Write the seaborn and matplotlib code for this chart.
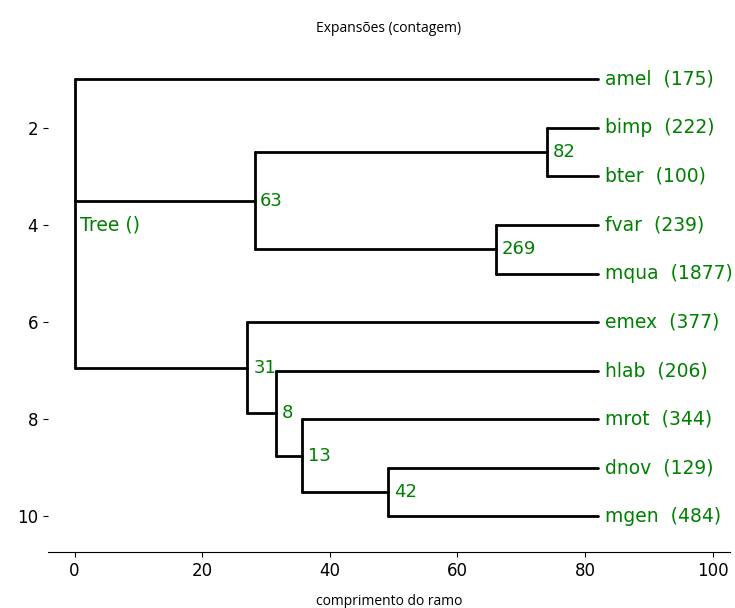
import pandas as pd
import matplotlib.pyplot as plt
import seaborn as sns

# leaves (top to bottom) and their expansion counts
leaves = ['amel', 'bimp', 'bter', 'fvar', 'mqua', 'emex', 'hlab', 'mrot', 'dnov', 'mgen']
counts = [175, 222, 100, 239, 1877, 377, 206, 344, 129, 484]
leaf_x = 82.0

# internal nodes: id, distance from root, label, children
node_ids = ['root', 'n63', 'n82', 'n269', 'n31', 'n8', 'n13', 'n42']
node_x = [0.0, 28.2, 74.0, 66.0, 27.1, 31.5, 35.7, 49.2]
node_labels = ['Tree ()', '63', '82', '269', '31', '8', '13', '42']
node_children = [['amel', 'n63', 'n31'], ['n82', 'n269'], ['bimp', 'bter'],
                 ['fvar', 'mqua'], ['emex', 'n8'], ['hlab', 'n13'],
                 ['mrot', 'n42'], ['dnov', 'mgen']]

green = '#008000'


def main():
    xpos = {n: leaf_x for n in leaves}
    ypos = {n: i + 1 for i, n in enumerate(leaves)}
    xpos.update(dict(zip(node_ids, node_x)))

    def get_y(n):
        if n not in ypos:
            kids = node_children[node_ids.index(n)]
            ypos[n] = sum(get_y(k) for k in kids) / len(kids)
        return ypos[n]

    for n in node_ids:
        get_y(n)

    # build segments
    rows = []
    seg = 0
    for n, kids in zip(node_ids, node_children):
        ys = [ypos[k] for k in kids]
        rows += [(seg, xpos[n], min(ys)), (seg, xpos[n], max(ys))]
        seg += 1
        for k in kids:
            rows += [(seg, xpos[n], ypos[k]), (seg, xpos[k], ypos[k])]
            seg += 1
    df = pd.DataFrame(rows, columns=['seg', 'x', 'y'])

    sns.set_style('ticks')
    plt.rcParams['font.family'] = ['DejaVu Sans']
    plt.rcParams['text.color'] = 'black'
    plt.rcParams['axes.edgecolor'] = 'black'
    plt.rcParams['xtick.color'] = 'black'
    plt.rcParams['ytick.color'] = 'black'

    fig = plt.figure(figsize=(7.35, 6.08), dpi=100)
    ax = fig.add_axes([0.065, 0.092, 0.928, 0.834])
    sns.lineplot(data=df, x='x', y='y', units='seg', estimator=None, sort=False,
                 color='black', lw=2, ax=ax)

    for n, c in zip(leaves, counts):
        ax.text(leaf_x + 1.2, ypos[n], f'{n}  ({c})', color=green,
                fontsize=13.5, va='center', ha='left')
    for n, lab in zip(node_ids, node_labels):
        if n == 'root':
            ax.text(xpos[n] + 0.9, ypos[n], lab, color=green,
                    fontsize=13.5, va='top', ha='left')
        else:
            ax.text(xpos[n] + 0.9, ypos[n], lab, color=green,
                    fontsize=13, va='center', ha='left')

    ax.set_xlim(-4.2, 102.7)
    ax.set_ylim(10.74, 0.29)
    ax.set_xticks(range(0, 101, 20))
    ax.set_yticks(range(2, 11, 2))
    ax.tick_params(labelsize=12, colors='black')
    sns.despine(ax=ax, left=True)
    ax.set_xlabel('comprimento do ramo', fontsize=10, family='Open Sans',
                  color='black', labelpad=10)
    ax.set_ylabel('')
    ax.set_title('Expansões (contagem)', fontsize=10, family='Open Sans', pad=9, color='black')

    fig.savefig('out.png', dpi=100)


if __name__ == '__main__':
    main()
